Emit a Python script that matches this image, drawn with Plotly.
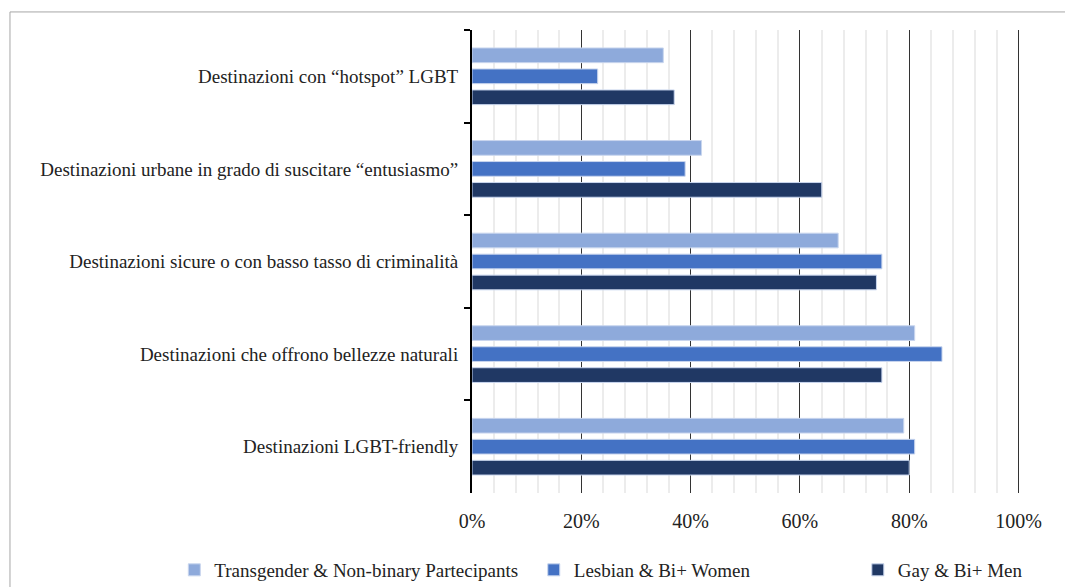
import plotly.graph_objects as go

categorie = [
    "Destinazioni con “hotspot” LGBT",
    "Destinazioni urbane in grado di suscitare “entusiasmo”",
    "Destinazioni sicure o con basso tasso di criminalità",
    "Destinazioni che offrono bellezze naturali",
    "Destinazioni LGBT-friendly",
]
trans_nb = [0.35, 0.42, 0.67, 0.81, 0.79]
lesbian_bi = [0.23, 0.39, 0.75, 0.86, 0.81]
gay_bi = [0.37, 0.64, 0.74, 0.75, 0.80]

serie = [
    ("Transgender & Non-binary Partecipants", trans_nb, "#8eaadb", "legend"),
    ("Lesbian & Bi+ Women", lesbian_bi, "#4472c4", "legend2"),
    ("Gay & Bi+ Men", gay_bi, "#203864", "legend3"),
]

font_fam = "Liberation Serif"

fig = go.Figure()
for nome, valori, colore, leg in serie:
    fig.add_trace(go.Bar(
        y=categorie, x=valori, name=nome, orientation="h",
        marker=dict(color=colore, line=dict(color="#c9d6ee", width=1)),
        legend=leg,
    ))

# legende separate per replicare le spaziature dell'originale
leg_common = dict(orientation="h", xref="container", yref="container",
                  yanchor="middle", y=0.0426, xanchor="left",
                  font=dict(family=font_fam, size=19, color="#222"),
                  bgcolor="rgba(0,0,0,0)", itemwidth=30)

fig.update_layout(
    barmode="group",
    bargap=0.32,
    bargroupgap=0.3,
    width=1073, height=587,
    margin=dict(l=464, r=57, t=22, b=102),
    paper_bgcolor="white", plot_bgcolor="white",
    font=dict(family=font_fam, size=19, color="#222"),
    showlegend=True,
    legend=dict(leg_common, x=0.155),
    legend2=dict(leg_common, x=0.490),
    legend3=dict(leg_common, x=0.792),
    xaxis=dict(
        range=[0, 1.01], tickformat=".0%", dtick=0.2,
        showgrid=True, gridcolor="#333333", gridwidth=1,
        minor=dict(dtick=0.04, showgrid=True, gridcolor="#ececec", gridwidth=2),
        showline=False, zeroline=False, ticks="",
        ticklabelstandoff=14,
        tickfont=dict(size=20),
    ),
    yaxis=dict(
        autorange="reversed",
        showline=True, linecolor="#000", linewidth=2,
        ticks="outside", ticklen=6, tickcolor="#000", tickwidth=2,
        tickson="boundaries", showgrid=False,
        ticklabelstandoff=8,
    ),
    shapes=[dict(
        type="rect", xref="paper", yref="paper",
        x0=-0.837, x1=1.3, y0=-0.4, y1=1.039,
        line=dict(color="#a6a6a6", width=1), layer="below",
    )],
)

fig.write_html("out.html")
